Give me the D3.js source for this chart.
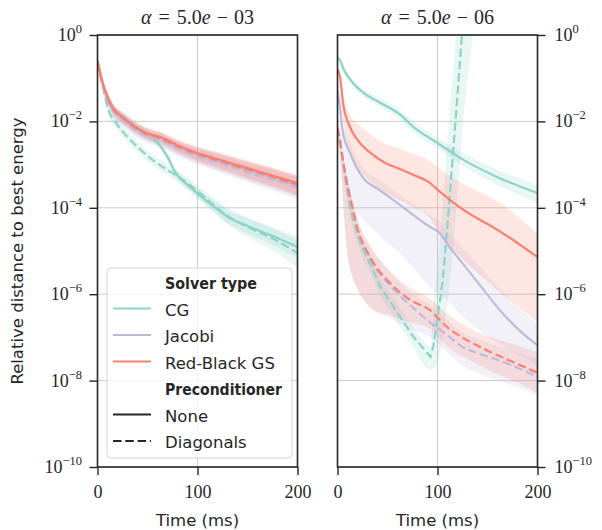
<!DOCTYPE html>
<html><head><meta charset="utf-8">
<script src="https://cdn.jsdelivr.net/npm/d3@7"></script>
<style>body{margin:0;background:#fff} svg{display:block}</style>
</head><body><svg id="c" width="602" height="530"></svg>
<script>
// ---- data: rows are [time ms, log10(mean), log10(lower band), log10(upper band)] ----
const solverTypes = ["CG", "Jacobi", "Red-Black GS"];
const preconditioners = ["None", "Diagonals"];
const panelTitles = ["5.0e", "5.0e"];
const panelExps = ["03", "06"];
const xTicks = [0, 100, 200];
const yTickExps = [0, -2, -4, -6, -8, -10];

// alpha = 5.0e-03
const L_CG_None = [
 [0,-0.63,-0.70,-0.57],[5,-1.09,-1.17,-1.02],[10,-1.48,-1.56,-1.40],[17,-1.74,-1.82,-1.66],
 [27,-1.92,-2.00,-1.84],[40,-2.15,-2.23,-2.07],[55,-2.38,-2.46,-2.30],[62,-2.55,-2.63,-2.47],
 [70,-2.82,-2.92,-2.72],[78,-3.19,-3.29,-3.09],[88,-3.43,-3.54,-3.32],[98,-3.63,-3.75,-3.51],
 [118,-4.00,-4.14,-3.86],[130,-4.21,-4.36,-4.06],[148,-4.40,-4.57,-4.23],[165,-4.56,-4.75,-4.37],
 [180,-4.70,-4.92,-4.50],[200,-4.91,-5.16,-4.66]];
const L_CG_Diag = [
 [0,-0.63,-0.70,-0.57],[5,-1.16,-1.25,-1.07],[10,-1.67,-1.78,-1.56],[20,-2.08,-2.20,-1.97],
 [30,-2.36,-2.48,-2.24],[40,-2.59,-2.71,-2.47],[50,-2.80,-2.92,-2.68],[65,-3.05,-3.17,-2.93],
 [78,-3.24,-3.36,-3.12],[90,-3.43,-3.56,-3.30],[107,-3.75,-3.90,-3.60],[130,-4.19,-4.38,-4.00],
 [150,-4.44,-4.67,-4.22],[180,-4.77,-5.05,-4.52],[200,-5.05,-5.38,-4.76]];
const L_Jac_None = [
 [0,-0.60,-0.70,-0.52],[4,-1.03,-1.15,-0.93],[8,-1.34,-1.48,-1.22],[15,-1.71,-1.86,-1.58],
 [25,-1.94,-2.09,-1.80],[35,-2.12,-2.27,-1.98],[47,-2.29,-2.44,-2.14],[65,-2.43,-2.59,-2.28],
 [80,-2.60,-2.77,-2.45],[100,-2.78,-2.97,-2.61],[120,-2.92,-3.13,-2.74],[140,-3.06,-3.29,-2.87],
 [160,-3.20,-3.45,-3.00],[180,-3.34,-3.60,-3.13],[200,-3.48,-3.76,-3.26]];
const L_Jac_Diag = [
 [0,-0.62,-0.72,-0.54],[4,-1.06,-1.18,-0.96],[8,-1.37,-1.51,-1.25],[15,-1.74,-1.89,-1.61],
 [25,-1.97,-2.12,-1.83],[35,-2.15,-2.30,-2.01],[47,-2.32,-2.47,-2.17],[65,-2.46,-2.62,-2.31],
 [80,-2.63,-2.80,-2.48],[100,-2.81,-3.00,-2.64],[120,-2.95,-3.16,-2.77],[140,-3.10,-3.33,-2.91],
 [160,-3.25,-3.49,-3.04],[180,-3.38,-3.64,-3.17],[200,-3.52,-3.80,-3.30]];
const L_RB_None = [
 [0,-0.58,-0.66,-0.52],[4,-1.00,-1.10,-0.92],[8,-1.30,-1.42,-1.20],[15,-1.67,-1.80,-1.56],
 [25,-1.90,-2.03,-1.78],[35,-2.08,-2.21,-1.96],[47,-2.25,-2.38,-2.12],[65,-2.38,-2.52,-2.25],
 [80,-2.55,-2.70,-2.42],[100,-2.73,-2.90,-2.58],[120,-2.87,-3.06,-2.71],[140,-3.01,-3.22,-2.84],
 [160,-3.15,-3.38,-2.97],[180,-3.29,-3.53,-3.10],[200,-3.43,-3.70,-3.24]];
const L_RB_Diag = [
 [0,-0.60,-0.68,-0.54],[4,-1.03,-1.13,-0.95],[8,-1.33,-1.45,-1.23],[15,-1.69,-1.82,-1.58],
 [25,-1.92,-2.05,-1.80],[35,-2.10,-2.23,-1.98],[47,-2.27,-2.40,-2.14],[65,-2.41,-2.55,-2.28],
 [80,-2.58,-2.73,-2.45],[100,-2.76,-2.93,-2.61],[120,-2.90,-3.09,-2.74],[140,-3.04,-3.25,-2.87],
 [160,-3.18,-3.41,-3.00],[180,-3.32,-3.56,-3.13],[200,-3.46,-3.72,-3.27]];

// alpha = 5.0e-06
const R_CG_None = [
 [0,-0.53,-0.58,-0.48],[3,-0.60,-0.66,-0.54],[6,-0.78,-0.85,-0.71],[13,-1.04,-1.12,-0.96],
 [26,-1.34,-1.43,-1.25],[43,-1.57,-1.67,-1.47],[63,-1.85,-1.96,-1.74],[76,-2.13,-2.25,-2.01],
 [100,-2.50,-2.63,-2.37],[126,-2.89,-3.04,-2.74],[160,-3.29,-3.47,-3.12],[200,-3.66,-3.90,-3.47]];
const R_CG_Diag = [
 [0,-2.15,-2.25,-2.05],[3,-2.43,-2.55,-2.30],[6,-3.06,-3.22,-2.90],[13,-4.05,-4.25,-3.85],
 [20,-4.63,-4.85,-4.42],[26,-4.98,-5.20,-4.76],[33,-5.32,-5.54,-5.10],[43,-5.83,-6.05,-5.61],
 [60,-6.44,-6.66,-6.22],[76,-6.99,-7.22,-6.77],[93,-7.45,-7.75,-7.20],[96,-7.18,-7.72,-6.20],
 [100,-6.55,-7.65,-5.40],[105,-5.72,-7.00,-4.00],[110,-4.40,-6.20,-2.50],[115,-2.89,-5.10,-1.00],
 [120,-1.39,-3.70,0.40],[124,-0.12,-2.50,1.20],[128,0.60,-1.40,1.80],[132,1.30,-0.60,2.20],
 [136,2.00,0.10,2.60]];
const R_Jac_None = [
 [0,-1.30,-1.40,-1.22],[2.5,-1.67,-1.95,-1.55],[5,-2.20,-2.70,-2.00],[12.5,-2.73,-3.85,-2.50],
 [25,-3.29,-4.25,-3.05],[42,-3.59,-4.65,-3.35],[60,-3.89,-5.00,-3.65],[76,-4.17,-5.40,-3.92],
 [93,-4.45,-5.85,-4.18],[102,-4.58,-6.00,-4.30],[112,-4.91,-6.20,-4.60],[120,-5.14,-6.40,-4.80],
 [140,-5.72,-6.80,-5.30],[165,-6.44,-7.20,-5.95],[185,-6.90,-7.45,-6.40],[200,-7.18,-7.65,-6.70]];
const R_Jac_Diag = [
 [0,-2.15,-2.25,-2.10],[3,-2.55,-3.00,-2.45],[9.5,-3.45,-5.00,-3.30],[15,-4.05,-5.60,-3.85],
 [19.5,-4.47,-5.85,-4.25],[32.5,-5.18,-6.30,-4.90],[52.5,-5.80,-6.55,-5.50],[60,-5.98,-6.65,-5.68],
 [72.5,-6.25,-6.80,-5.95],[92.5,-6.65,-7.00,-6.25],[110,-6.95,-7.35,-6.60],[125,-7.22,-7.65,-6.90],
 [142,-7.38,-7.85,-7.05],[160,-7.52,-8.00,-7.20],[180,-7.70,-8.15,-7.35],[200,-7.92,-8.35,-7.50]];
const R_RB_None = [
 [0,-0.80,-0.85,-0.75],[2.5,-0.97,-1.10,-0.88],[5.5,-1.57,-1.95,-1.35],[12.5,-2.13,-2.70,-1.85],
 [20,-2.43,-3.05,-2.05],[33,-2.73,-3.40,-2.30],[46,-2.94,-3.62,-2.50],[60,-3.08,-3.80,-2.62],
 [76,-3.24,-3.98,-2.75],[91,-3.40,-4.20,-2.90],[102,-3.62,-4.60,-3.10],[126,-4.05,-5.20,-3.45],
 [160,-4.51,-5.90,-3.85],[200,-5.14,-6.65,-4.60]];
const R_RB_Diag = [
 [0,-2.15,-2.25,-2.10],[3,-2.55,-3.00,-2.45],[9.5,-3.43,-5.00,-3.30],[15,-4.00,-5.60,-3.80],
 [19.5,-4.44,-5.85,-4.20],[32.5,-5.14,-6.30,-4.85],[52.5,-5.74,-6.50,-5.45],[72.5,-6.13,-6.65,-5.85],
 [92.5,-6.37,-6.80,-6.10],[109.5,-6.76,-7.20,-6.45],[125.5,-7.01,-7.45,-6.70],[142.5,-7.22,-7.65,-6.90],
 [159.5,-7.41,-7.85,-7.05],[175.5,-7.57,-8.00,-7.15],[200,-7.82,-8.29,-7.35]];

const leftSeries = [
 ["CG","None",L_CG_None],["CG","Diagonals",L_CG_Diag],
 ["Jacobi","None",L_Jac_None],["Jacobi","Diagonals",L_Jac_Diag],
 ["Red-Black GS","None",L_RB_None],["Red-Black GS","Diagonals",L_RB_Diag]];
const rightSeries = [
 ["CG","None",R_CG_None],["CG","Diagonals",R_CG_Diag],
 ["Jacobi","None",R_Jac_None],["Jacobi","Diagonals",R_Jac_Diag],
 ["Red-Black GS","None",R_RB_None],["Red-Black GS","Diagonals",R_RB_Diag]];

// ---- styles / layout ----
const color = d3.scaleOrdinal().domain(solverTypes).range(["#8dd3c7","#bebada","#fb8072"]);
const dash = d3.scaleOrdinal().domain(preconditioners).range(["none","8.5,3.8"]);
const INK = "#262626";
const SERIF = "'Liberation Serif', 'DejaVu Serif', serif";
const SANS = "'DejaVu Sans', sans-serif";

const svg = d3.select("#c");
const plotTop = 35, plotBottom = 467;
const y = d3.scaleLog().domain([1e-10, 1]).range([plotBottom, plotTop]);
const panels = [
  {x: d3.scaleLinear().domain([0,200]).range([97.5,297.5]), series: leftSeries, side: "left"},
  {x: d3.scaleLinear().domain([0,200]).range([337.5,537.5]), series: rightSeries, side: "right"}
];

const defs = svg.append("defs");
panels.forEach((p, i) => {
  const [x0, x1] = p.x.range();
  const g = svg.append("g");
  defs.append("clipPath").attr("id","clip"+i).append("rect")
    .attr("x", x0).attr("y", plotTop).attr("width", x1-x0).attr("height", plotBottom-plotTop);

  // grid
  g.append("g").selectAll("line").data(xTicks).join("line")
    .attr("x1", d=>p.x(d)).attr("x2", d=>p.x(d)).attr("y1", plotTop).attr("y2", plotBottom)
    .attr("stroke", "#cccccc").attr("stroke-width", 1);
  g.append("g").selectAll("line").data(yTickExps).join("line")
    .attr("x1", x0).attr("x2", x1).attr("y1", d=>y(Math.pow(10,d))).attr("y2", d=>y(Math.pow(10,d)))
    .attr("stroke", "#cccccc").attr("stroke-width", 1);

  const plot = g.append("g").attr("clip-path", `url(#clip${i})`);
  const area = d3.area().x(d=>p.x(d[0])).y0(d=>y(Math.pow(10,d[2]))).y1(d=>y(Math.pow(10,d[3])))
    .curve(d3.curveMonotoneX);
  p.series.forEach(([s, pc, rows]) => {
    plot.append("path").datum(rows).attr("d", area)
      .attr("fill", color(s)).attr("fill-opacity", 0.2).attr("stroke", "none");
  });
  p.series.forEach(([s, pc, rows]) => {
    const sharp = (rows === R_CG_Diag);
    const line = d3.line().x(d=>p.x(d[0])).y(d=>y(Math.pow(10,d[1])))
      .curve(sharp ? d3.curveLinear : d3.curveMonotoneX);
    plot.append("path").datum(rows).attr("d", line)
      .attr("fill", "none").attr("stroke", color(s)).attr("stroke-width", 2.2)
      .attr("stroke-dasharray", dash(pc)).attr("stroke-linecap", "butt");
  });

  // frame
  g.append("rect").attr("x", x0).attr("y", plotTop).attr("width", x1-x0).attr("height", plotBottom-plotTop)
    .attr("fill","none").attr("stroke", INK).attr("stroke-width", 1.6);

  // x axis
  const xa = g.append("g").attr("transform", `translate(0,${plotBottom})`)
    .call(d3.axisBottom(p.x).tickValues(xTicks).tickSize(8).tickPadding(6).tickFormat(d3.format("d")));
  xa.select(".domain").remove();
  xa.selectAll(".tick line").attr("stroke", INK).attr("stroke-width", 1.4);
  xa.selectAll(".tick text").attr("font-family", SERIF).attr("font-size", 18).attr("fill", INK)
    .attr("dy", null).attr("y", 31);

  // y axis
  const yAxisGen = (p.side === "left" ? d3.axisLeft(y) : d3.axisRight(y))
    .tickValues(yTickExps.map(e=>Math.pow(10,e))).tickSize(8).tickFormat(()=>"");
  const ya = g.append("g").attr("transform", `translate(${p.side==="left"?x0:x1},0)`).call(yAxisGen);
  ya.select(".domain").remove();
  ya.selectAll(".tick line").attr("stroke", INK).attr("stroke-width", 1.4);
  ya.selectAll(".tick text").remove();
  ya.selectAll(".tick").each(function(d){
    const e = Math.round(Math.log10(d));
    const t = d3.select(this).append("text")
      .attr("x", p.side==="left" ? -15.5 : 17)
      .attr("y", 5.5)
      .attr("text-anchor", p.side==="left" ? "end" : "start")
      .attr("font-family", SERIF).attr("font-size", 18).attr("fill", INK);
    t.append("tspan").text("10");
    t.append("tspan").attr("dy", -8).attr("font-size", 12.5).text(e===0 ? "0" : "\u2212" + (-e));
  });

  // x label
  g.append("text").attr("x", (x0+x1)/2).attr("y", 526).attr("text-anchor","middle")
    .attr("font-family", SANS).attr("font-size", 16.5).attr("fill", INK).text("Time (ms)");

  // title
  const tt = g.append("text").attr("x", (x0+x1)/2).attr("y", 24).attr("text-anchor","middle")
    .attr("font-family", SERIF).attr("font-size", 20).attr("fill", INK);
  tt.append("tspan").attr("font-style","italic").text("\u03b1");
  tt.append("tspan").attr("dx", 7).text("=");
  tt.append("tspan").attr("dx", 7).text(panelTitles[i].slice(0,3));
  tt.append("tspan").attr("font-style","italic").text("e");
  tt.append("tspan").attr("dx", 6).text("\u2212");
  tt.append("tspan").attr("dx", 6).text(panelExps[i]);
});

// y label
svg.append("text").attr("transform", "translate(23,251) rotate(-90)").attr("text-anchor","middle")
  .attr("font-family", SANS).attr("font-size", 16.5).attr("fill", INK)
  .text("Relative distance to best energy");

// legend
const lg = svg.append("g");
lg.append("rect").attr("x", 107).attr("y", 268).attr("width", 185).attr("height", 190).attr("rx", 4)
  .attr("fill", "#fff").attr("fill-opacity", 0.8).attr("stroke", "#d6d6d6").attr("stroke-width", 1);
const entries = [
  {label:"Solver type", head:true},
  ...solverTypes.map(s=>({label:s, stroke:color(s), dash:"none"})),
  {label:"Preconditioner", head:true},
  ...preconditioners.map(p=>({label:p, stroke:INK, dash:dash(p)}))
];
const headW = {"Solver type": 92, "Preconditioner": 117};
entries.forEach((en, k) => {
  const base = 289 + k*26.5;
  if (!en.head) {
    lg.append("line").attr("x1", 113).attr("x2", 151).attr("y1", base-7).attr("y2", base-7)
      .attr("stroke", en.stroke).attr("stroke-width", 2.2).attr("stroke-dasharray", en.dash);
  }
  const t = lg.append("text").attr("x", 165).attr("y", base)
    .attr("font-family", SANS).attr("font-size", 16.5).attr("fill", INK).text(en.label);
  if (en.head) t.attr("font-weight", "bold").attr("textLength", headW[en.label]).attr("lengthAdjust", "spacingAndGlyphs");
});
</script></body></html>
